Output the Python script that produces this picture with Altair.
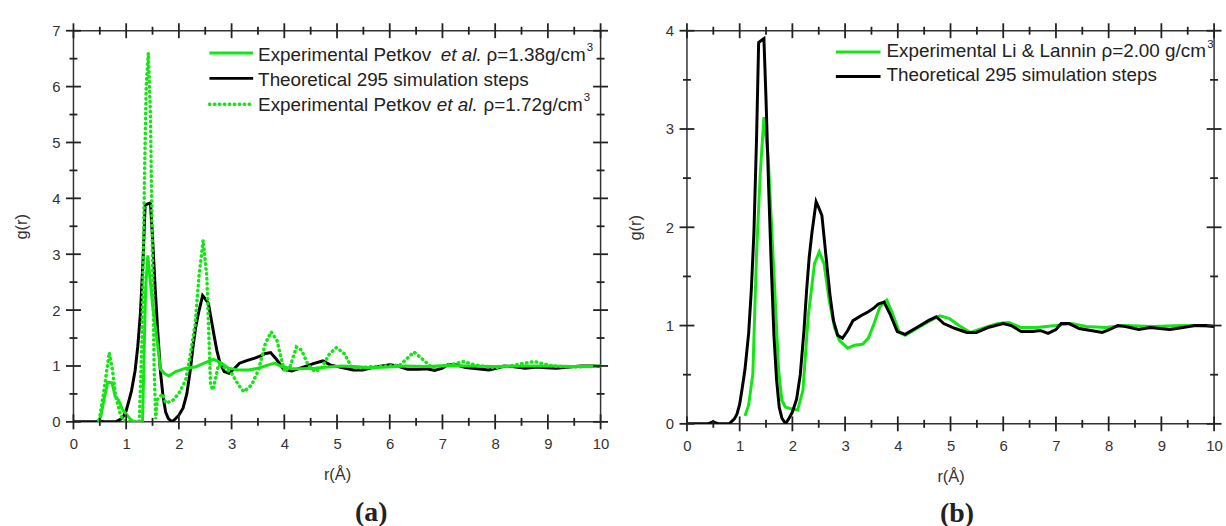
import altair as alt
import pandas as pd

# ---------------- data ----------------
# theoretical g(r), 295 simulation steps (same curve in both panels)
r_theo = [0.0, 0.2, 0.4, 0.49, 0.6, 0.8, 0.9, 0.95, 1.0, 1.05, 1.1, 1.17, 1.22, 1.27, 1.32, 1.36,
          1.41, 1.46, 1.5, 1.55, 1.6, 1.65, 1.7, 1.75, 1.8, 1.87, 1.94, 2.0, 2.08, 2.15, 2.22, 2.27,
          2.32, 2.37, 2.45, 2.5, 2.56, 2.62, 2.67, 2.72, 2.78, 2.86, 2.95, 3.05, 3.15, 3.3, 3.44,
          3.55, 3.63, 3.74, 3.85, 3.99, 4.14, 4.36, 4.58, 4.73, 4.87, 5.09, 5.31, 5.49, 5.71, 6.0,
          6.15, 6.34, 6.56, 6.7, 6.85, 7.0, 7.1, 7.25, 7.44, 7.66, 7.88, 8.02, 8.17, 8.32, 8.57,
          8.79, 8.97, 9.16, 9.41, 9.63, 9.85, 10.0]
g_theo = [0.0, 0.0, 0.0, 0.02, 0.0, 0.0, 0.05, 0.1, 0.2, 0.37, 0.55, 0.92, 1.35, 1.94, 2.9, 3.88,
          3.9, 3.92, 3.3, 2.4, 1.6, 0.9, 0.45, 0.17, 0.06, 0.0, 0.06, 0.12, 0.25, 0.5, 0.95, 1.36,
          1.7, 1.94, 2.26, 2.2, 2.12, 1.8, 1.53, 1.28, 1.05, 0.9, 0.87, 0.95, 1.05, 1.1, 1.14,
          1.18, 1.22, 1.24, 1.12, 0.94, 0.91, 0.98, 1.05, 1.09, 1.02, 0.97, 0.93, 0.93, 0.98, 1.02,
          1.0, 0.94, 0.94, 0.95, 0.92, 0.96, 1.02, 1.02, 0.97, 0.95, 0.93, 0.96, 1.0, 0.99, 0.96,
          0.98, 0.97, 0.96, 0.98, 1.0, 1.0, 0.99]

# experimental Petkov et al., rho = 1.38 g/cm3
r_p138 = [0.46, 0.52, 0.58, 0.65, 0.73, 0.79, 0.86, 0.93, 1.01, 1.09, 1.15, 1.31, 1.34, 1.37, 1.41,
          1.45, 1.5, 1.58, 1.65, 1.72, 1.81, 1.94, 2.13, 2.31, 2.5, 2.66, 2.79, 2.94, 3.13, 3.32,
          3.51, 3.7, 3.82, 3.95, 4.14, 4.33, 4.58, 4.83, 5.08, 5.33, 5.65, 5.97, 6.3, 6.7, 7.1,
          7.5, 8.0, 8.5, 9.0, 9.5, 10.0]
g_p138 = [0.0, 0.1, 0.4, 0.71, 0.7, 0.46, 0.38, 0.22, 0.13, 0.04, 0.0, 0.0, 1.2, 2.4, 2.98,
          2.6, 2.1, 1.5, 0.95, 0.87, 0.82, 0.9, 0.96, 0.98, 1.06, 1.12, 1.06, 0.96, 0.93, 0.93,
          0.96, 1.02, 1.05, 0.99, 0.95, 0.95, 0.96, 0.98, 1.0, 0.99, 0.97, 0.98, 1.0, 0.99, 1.01,
          1.0, 0.99, 1.0, 1.0, 0.99, 1.0]

# experimental Petkov et al., rho = 1.72 g/cm3
r_p172 = [0.49, 0.58, 0.68, 0.74, 0.8, 0.9, 1.0, 1.25, 1.3, 1.35, 1.38, 1.42, 1.46, 1.49, 1.53,
          1.56, 1.59, 1.69, 1.75, 1.87, 2.0, 2.13, 2.22, 2.31, 2.38, 2.46, 2.53, 2.6, 2.64, 2.69,
          2.75, 2.85, 3.0, 3.13, 3.23, 3.38, 3.51, 3.64, 3.75, 3.86, 3.95, 4.01, 4.11, 4.23, 4.33,
          4.45, 4.58, 4.7, 4.86, 4.99, 5.14, 5.27, 5.4, 5.65, 6.0, 6.2, 6.46, 6.65, 6.8, 7.0,
          7.2, 7.4, 7.6, 7.8, 8.0, 8.3, 8.5, 8.74, 8.95, 9.1, 9.5, 10.0]
g_p172 = [0.03, 0.57, 1.24, 0.93, 0.46, 0.1, 0.0, 0.01, 1.5, 4.5, 6.0, 6.6, 5.5, 3.5, 1.0,
          0.05, 0.4, 0.5, 0.34, 0.37, 0.51, 0.75, 1.22, 1.76, 2.6, 3.25, 2.6, 0.69, 0.57, 0.75,
          1.02, 0.98, 0.87, 0.66, 0.54, 0.66, 0.93, 1.4, 1.61, 1.46, 1.1, 0.9, 0.99, 1.34, 1.28,
          1.02, 0.9, 0.96, 1.22, 1.33, 1.22, 0.99, 0.96, 0.99, 1.0, 1.02, 1.25, 1.1, 0.97, 1.0,
          1.03, 1.08, 1.02, 0.99, 0.97, 1.0, 1.04, 1.08, 1.03, 1.0, 0.98, 1.0]

# experimental Li & Lannin, rho = 2.00 g/cm3
r_li = [1.1, 1.17, 1.25, 1.32, 1.39, 1.46, 1.54, 1.65, 1.74, 1.8, 1.87, 2.0, 2.1, 2.2, 2.3, 2.42,
        2.51, 2.6, 2.7, 2.8, 2.89, 3.05, 3.18, 3.33, 3.44, 3.55, 3.66, 3.79, 3.88, 4.03, 4.14,
        4.36, 4.58, 4.8, 4.98, 5.16, 5.38, 5.6, 5.9, 6.11, 6.34, 6.63, 7.0, 7.29, 7.58, 7.94,
        8.3, 8.83, 9.41, 10.0]
g_li = [0.08, 0.19, 0.51, 1.73, 2.54, 3.12, 2.72, 1.53, 0.54, 0.24, 0.17, 0.15, 0.14, 0.34, 1.09,
        1.63, 1.75, 1.63, 1.25, 0.98, 0.85, 0.77, 0.8, 0.81, 0.87, 1.02, 1.19, 1.26, 1.15, 0.93,
        0.9, 0.97, 1.04, 1.1, 1.07, 1.0, 0.93, 0.97, 1.02, 1.03, 0.98, 0.98, 1.0, 1.02, 0.99,
        0.98, 1.0, 0.99, 1.0, 0.99]

x_ticks = list(range(0, 11))
y_ticks_a = list(range(0, 8))
y_ticks_b = list(range(0, 5))
x_title = "r(Å)"
y_title = "g(r)"
panel_labels = ["(a)", "(b)"]
leg_a1 = ["Experimental Petkov", "et al.", "ρ=1.38g/cm", "3"]
leg_a2 = ["Theoretical 295 simulation steps"]
leg_a3 = ["Experimental Petkov", "et al.", "ρ=1.72g/cm", "3"]
leg_b1 = ["Experimental Li & Lannin ρ=2.00 g/cm", "3"]
leg_b2 = ["Theoretical 295 simulation steps"]

# ---------------- style ----------------
FONT = "Liberation Sans"
AXC = "#333333"
TICKC = "#222222"
TXT = "#222222"
GREEN = "#14e614"
BLACK = "#000000"
LEGFS = 19
DOT = [0.5, 4.5]
MAJOR_PX, MINOR_PX = 7.5, 4.0


def df(r, g):
    return pd.DataFrame({"r": r, "g": g})


def half(ticks):
    return [t + 0.5 for t in ticks[:-1]]


def x_axis():
    return alt.Axis(orient="bottom", values=x_ticks, ticks=False, domain=False, grid=False,
                    labelFont=FONT, labelFontSize=15, labelColor=AXC, labelPadding=15,
                    labelAngle=0, format="d", labelFlush=False, labelOverlap=False,
                    minExtent=0, title=x_title, titleFont=FONT, titleFontSize=16.5,
                    titleFontWeight="normal", titleColor=AXC, titlePadding=15)


def y_axis(yt):
    return alt.Axis(orient="left", values=yt, ticks=False, domain=False, grid=False,
                    labelFont=FONT, labelFontSize=15, labelColor=AXC, labelPadding=13.5,
                    format="d", labelOverlap=False, minExtent=0,
                    title=y_title, titleFont=FONT, titleFontSize=16.5,
                    titleFontWeight="normal", titleColor=AXC, titlePadding=22)


def line_layer(data, xs, ys, xa=None, ya=None, **mark):
    return alt.Chart(data).mark_line(clip=True, **mark).encode(
        x=alt.X("r:Q", scale=xs, axis=xa),
        y=alt.Y("g:Q", scale=ys, axis=ya),
        order=alt.Order("r:Q"),
    )


def tick_layer(xs, ys, xt, yt, W, H):
    """Crossing tick marks on all four sides, each one a two-point line segment."""
    x0, x1 = xt[0], xt[-1]
    y0, y1 = yt[0], yt[-1]
    ux = (x1 - x0) / W   # data units per pixel
    uy = (y1 - y0) / H
    rows = []
    k = 0
    for vals, hl in ((xt, MAJOR_PX), (half(xt), MINOR_PX)):
        for base in (y0, y1):
            for v in vals:
                rows.append({"r": v, "g": base - hl * uy, "id": k, "o": 0})
                rows.append({"r": v, "g": base + hl * uy, "id": k, "o": 1})
                k += 1
    for vals, hl in ((yt, MAJOR_PX), (half(yt), MINOR_PX)):
        for base in (x0, x1):
            for v in vals:
                rows.append({"r": base - hl * ux, "g": v, "id": k, "o": 0})
                rows.append({"r": base + hl * ux, "g": v, "id": k, "o": 1})
                k += 1
    d = pd.DataFrame(rows)
    return alt.Chart(d).mark_line(color=TICKC, strokeWidth=1.8).encode(
        x=alt.X("r:Q", scale=xs, axis=None),
        y=alt.Y("g:Q", scale=ys, axis=None),
        detail="id:N",
        order=alt.Order("o:Q"),
    )


def text_layer(txt, px, py, size=LEGFS, style="normal", weight="normal", font=FONT,
               align="left"):
    return alt.Chart(pd.DataFrame({"t": [txt]})).mark_text(
        font=font, fontSize=size, fontStyle=style, fontWeight=weight, color=TXT,
        align=align, baseline="alphabetic",
    ).encode(x=alt.value(px), y=alt.value(py), text="t:N")


def leg_line(x1, x2, y, color, width=3, dash=None):
    mk = dict(color=color, strokeWidth=width)
    if dash:
        mk.update(strokeDash=dash, strokeCap="round")
    return alt.Chart(pd.DataFrame({"k": [0]})).mark_rule(**mk).encode(
        x=alt.value(x1), x2=alt.value(x2), y=alt.value(y))


xs = alt.Scale(domain=[0, 10], nice=False, zero=False)

# ---------------- panel (a) ----------------
WA, HA = 531, 394
ysa = alt.Scale(domain=[0, 7], nice=False, zero=False)

pa_layers = [
    line_layer(df(r_theo, g_theo), xs, ysa, x_axis(), y_axis(y_ticks_a),
               color=BLACK, strokeWidth=3),
    line_layer(df(r_p138, g_p138), xs, ysa, color=GREEN, strokeWidth=3),
    line_layer(df(r_p172, g_p172), xs, ysa, color=GREEN, strokeWidth=3.5,
               strokeDash=DOT, strokeCap="round"),
    tick_layer(xs, ysa, x_ticks, y_ticks_a, WA, HA),
    leg_line(137, 181, 22.5, GREEN),
    leg_line(137, 181, 48, BLACK),
    leg_line(137, 181, 74, GREEN, 3.5, DOT),
    text_layer(leg_a1[0], 186, 30),
    text_layer(leg_a1[1], 370, 30, style="italic"),
    text_layer(leg_a1[2], 416, 30),
    text_layer(leg_a1[3], 517, 20, size=11.5),
    text_layer(leg_a2[0], 186, 55.5),
    text_layer(leg_a3[0], 186, 81),
    text_layer(leg_a3[1], 366, 81, style="italic"),
    text_layer(leg_a3[2], 413, 81),
    text_layer(leg_a3[3], 514, 71, size=11.5),
    text_layer(panel_labels[0], 300, 494, size=28, weight="bold", font="Liberation Serif",
               align="center"),
]
panel_a = alt.layer(*pa_layers).resolve_axis(x="independent", y="independent").properties(
    width=WA, height=HA)

# ---------------- panel (b) ----------------
WB, HB = 531, 396
ysb = alt.Scale(domain=[0, 4], nice=False, zero=False)

pb_layers = [
    line_layer(df(r_li, g_li), xs, ysb, x_axis(), y_axis(y_ticks_b),
               color=GREEN, strokeWidth=3),
    line_layer(df(r_theo, g_theo), xs, ysb, color=BLACK, strokeWidth=3),
    tick_layer(xs, ysb, x_ticks, y_ticks_b, WB, HB),
    leg_line(150, 195, 21.5, GREEN),
    leg_line(150, 195, 46, BLACK),
    text_layer(leg_b1[0], 201, 26.7),
    text_layer(leg_b1[1], 524, 17, size=11.5),
    text_layer(leg_b2[0], 201, 51),
    text_layer(panel_labels[1], 272, 495, size=28, weight="bold", font="Liberation Serif",
               align="center"),
]
panel_b = alt.layer(*pb_layers).resolve_axis(x="independent", y="independent").properties(
    width=WB, height=HB)

chart = alt.hconcat(panel_a, panel_b, spacing=14).properties(
    padding={"left": 13, "top": 17, "right": 0, "bottom": 0},
    background="white",
).configure_view(stroke=AXC, strokeWidth=1.5)

chart.save("out.html", embed_options={"renderer": "svg", "actions": False})
